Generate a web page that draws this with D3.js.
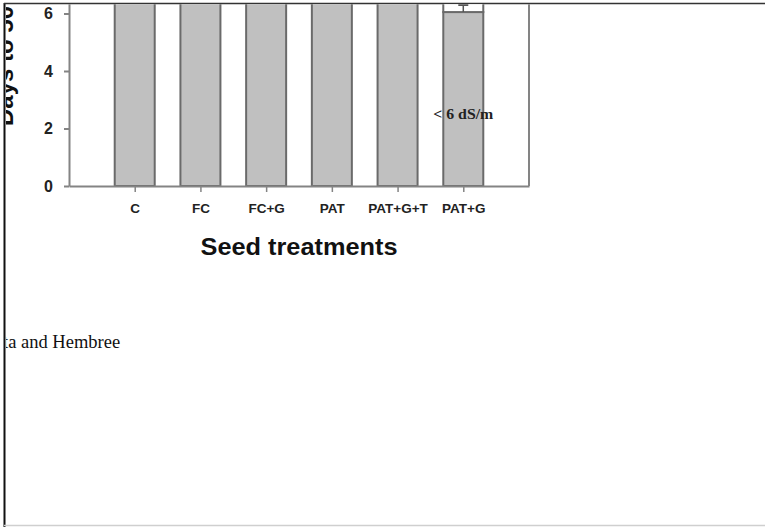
<!DOCTYPE html>
<html>
<head>
<meta charset="utf-8">
<script src="https://cdn.jsdelivr.net/npm/d3@7/dist/d3.min.js"></script>
<style>
  html, body { margin: 0; padding: 0; background: #fff; }
  svg { display: block; }
</style>
</head>
<body>
<svg id="fig" width="765" height="527"></svg>
<script>
// Seed treatments on the x axis
const categories = ["C", "FC", "FC+G", "PAT", "PAT+G+T", "PAT+G"];
// Days to 50% emergence under < 6 dS/m (grey segment)
const lowSalinityDays = [8.6, 8.3, 8.1, 7.9, 7.6, 6.05];
// Extra days for the higher salinity level (white segment stacked above)
const highSalinityExtra = [0, 0, 0, 0, 0, 2.4];
// Standard error on the grey segment
const lowSalinityError = [0, 0, 0, 0, 0, 0.25];
// Y axis tick values
const yTicks = [0, 2, 4, 6];

const svg = d3.select("#fig");

// Page frame lines
svg.append("line").attr("x1", 4.5).attr("x2", 4.5).attr("y1", 3).attr("y2", 527)
  .attr("stroke", "#111").attr("stroke-width", 2);
svg.append("line").attr("x1", 4).attr("x2", 765).attr("y1", 3.5).attr("y2", 3.5)
  .attr("stroke", "#333").attr("stroke-width", 1.5);
svg.append("line").attr("x1", 4).attr("x2", 765).attr("y1", 525.5).attr("y2", 525.5)
  .attr("stroke", "#cfcfcf").attr("stroke-width", 1.5);

// Visible window of the figure
svg.append("defs").append("clipPath").attr("id", "view")
  .append("rect").attr("x", 6).attr("y", 4.25).attr("width", 759).attr("height", 520);

const g = svg.append("g").attr("clip-path", "url(#view)");

const left = 69, right = 529, bottom = 186;
const x = d3.scalePoint().domain(categories).range([left, right]).padding(1);
const y = d3.scaleLinear().domain([0, 10]).range([bottom, bottom - 287.5]);
const barW = 40;

const axisColor = "#848484";
const barStroke = "#6a6a6a";
const barFill = "#c0c0c0";

// Right frame of the plot
g.append("line").attr("x1", right).attr("x2", right).attr("y1", bottom).attr("y2", y(10))
  .attr("stroke", axisColor).attr("stroke-width", 2);

// Stacked bars
const bars = g.append("g");
bars.selectAll("rect.low").data(categories).join("rect")
  .attr("class", "low")
  .attr("x", d => x(d) - barW / 2)
  .attr("width", barW)
  .attr("y", (d, i) => y(lowSalinityDays[i]))
  .attr("height", (d, i) => y(0) - y(lowSalinityDays[i]))
  .attr("fill", barFill).attr("stroke", barStroke).attr("stroke-width", 2);

bars.selectAll("rect.high").data(categories.filter((d, i) => highSalinityExtra[i] > 0)).join("rect")
  .attr("class", "high")
  .attr("x", d => x(d) - barW / 2)
  .attr("width", barW)
  .attr("y", d => { const i = categories.indexOf(d); return y(lowSalinityDays[i] + highSalinityExtra[i]); })
  .attr("height", d => { const i = categories.indexOf(d); return y(lowSalinityDays[i]) - y(lowSalinityDays[i] + highSalinityExtra[i]); })
  .attr("fill", "#fff").attr("stroke", barStroke).attr("stroke-width", 2);

// Error bars
const errs = categories.map((c, i) => ({ c, v: lowSalinityDays[i], e: lowSalinityError[i] })).filter(d => d.e > 0);
const eg = g.append("g").attr("stroke", "#555");
eg.selectAll("line.stem").data(errs).join("line")
  .attr("stroke-width", 1.5)
  .attr("x1", d => x(d.c)).attr("x2", d => x(d.c))
  .attr("y1", d => y(d.v)).attr("y2", d => y(d.v + d.e));
eg.selectAll("line.cap").data(errs).join("line")
  .attr("stroke-width", 2)
  .attr("x1", d => x(d.c) - 5).attr("x2", d => x(d.c) + 5)
  .attr("y1", d => y(d.v + d.e)).attr("y2", d => y(d.v + d.e));

// Salinity label inside the last bar
g.append("text")
  .attr("x", x("PAT+G")).attr("y", 119)
  .attr("text-anchor", "middle")
  .attr("font-family", "'Liberation Serif', serif").attr("font-weight", "bold")
  .attr("font-size", 14).attr("textLength", 60).attr("lengthAdjust", "spacingAndGlyphs")
  .attr("fill", "#222")
  .text("< 6 dS/m");

// Y axis
const yAxis = g.append("g").attr("transform", `translate(${left},0)`)
  .call(d3.axisLeft(y).tickValues(yTicks).tickSize(5).tickSizeOuter(0).tickPadding(11));
yAxis.select(".domain").attr("stroke", axisColor).attr("stroke-width", 2);
yAxis.selectAll(".tick line").attr("stroke", axisColor).attr("stroke-width", 2);
yAxis.selectAll(".tick text")
  .attr("font-family", "'Liberation Sans', Arial, sans-serif").attr("font-weight", "bold")
  .attr("font-size", 16).attr("fill", "#222");

// X axis
const xAxis = g.append("g").attr("transform", `translate(0,${bottom})`)
  .call(d3.axisBottom(x).tickSize(6).tickSizeOuter(0).tickPadding(11));
xAxis.select(".domain").attr("stroke", axisColor).attr("stroke-width", 2);
xAxis.selectAll(".tick line").attr("stroke", axisColor).attr("stroke-width", 1.5);
xAxis.selectAll(".tick text")
  .attr("font-family", "'Liberation Sans', Arial, sans-serif").attr("font-weight", "bold")
  .attr("font-size", 13.5).attr("fill", "#222");

// Axis titles
g.append("text")
  .attr("x", (left + right) / 2).attr("y", 255)
  .attr("text-anchor", "middle")
  .attr("font-family", "'Liberation Sans', Arial, sans-serif").attr("font-weight", "bold")
  .attr("font-size", 24).attr("fill", "#111")
  .attr("textLength", 197).attr("lengthAdjust", "spacingAndGlyphs")
  .text("Seed treatments");

g.append("text")
  .attr("transform", "translate(13,126) rotate(-90)")
  .attr("text-anchor", "start")
  .attr("font-family", "'Liberation Sans', Arial, sans-serif").attr("font-weight", "bold")
  .attr("font-size", 24).attr("fill", "#111")
  .text("Days to 50% emergence");

// Caption text below the figure
g.append("text")
  .attr("x", 3).attr("y", 348)
  .attr("font-family", "'Liberation Serif', 'Times New Roman', serif")
  .attr("font-size", 18.5).attr("fill", "#111")
  .text("ta and Hembree");
</script>
</body>
</html>
